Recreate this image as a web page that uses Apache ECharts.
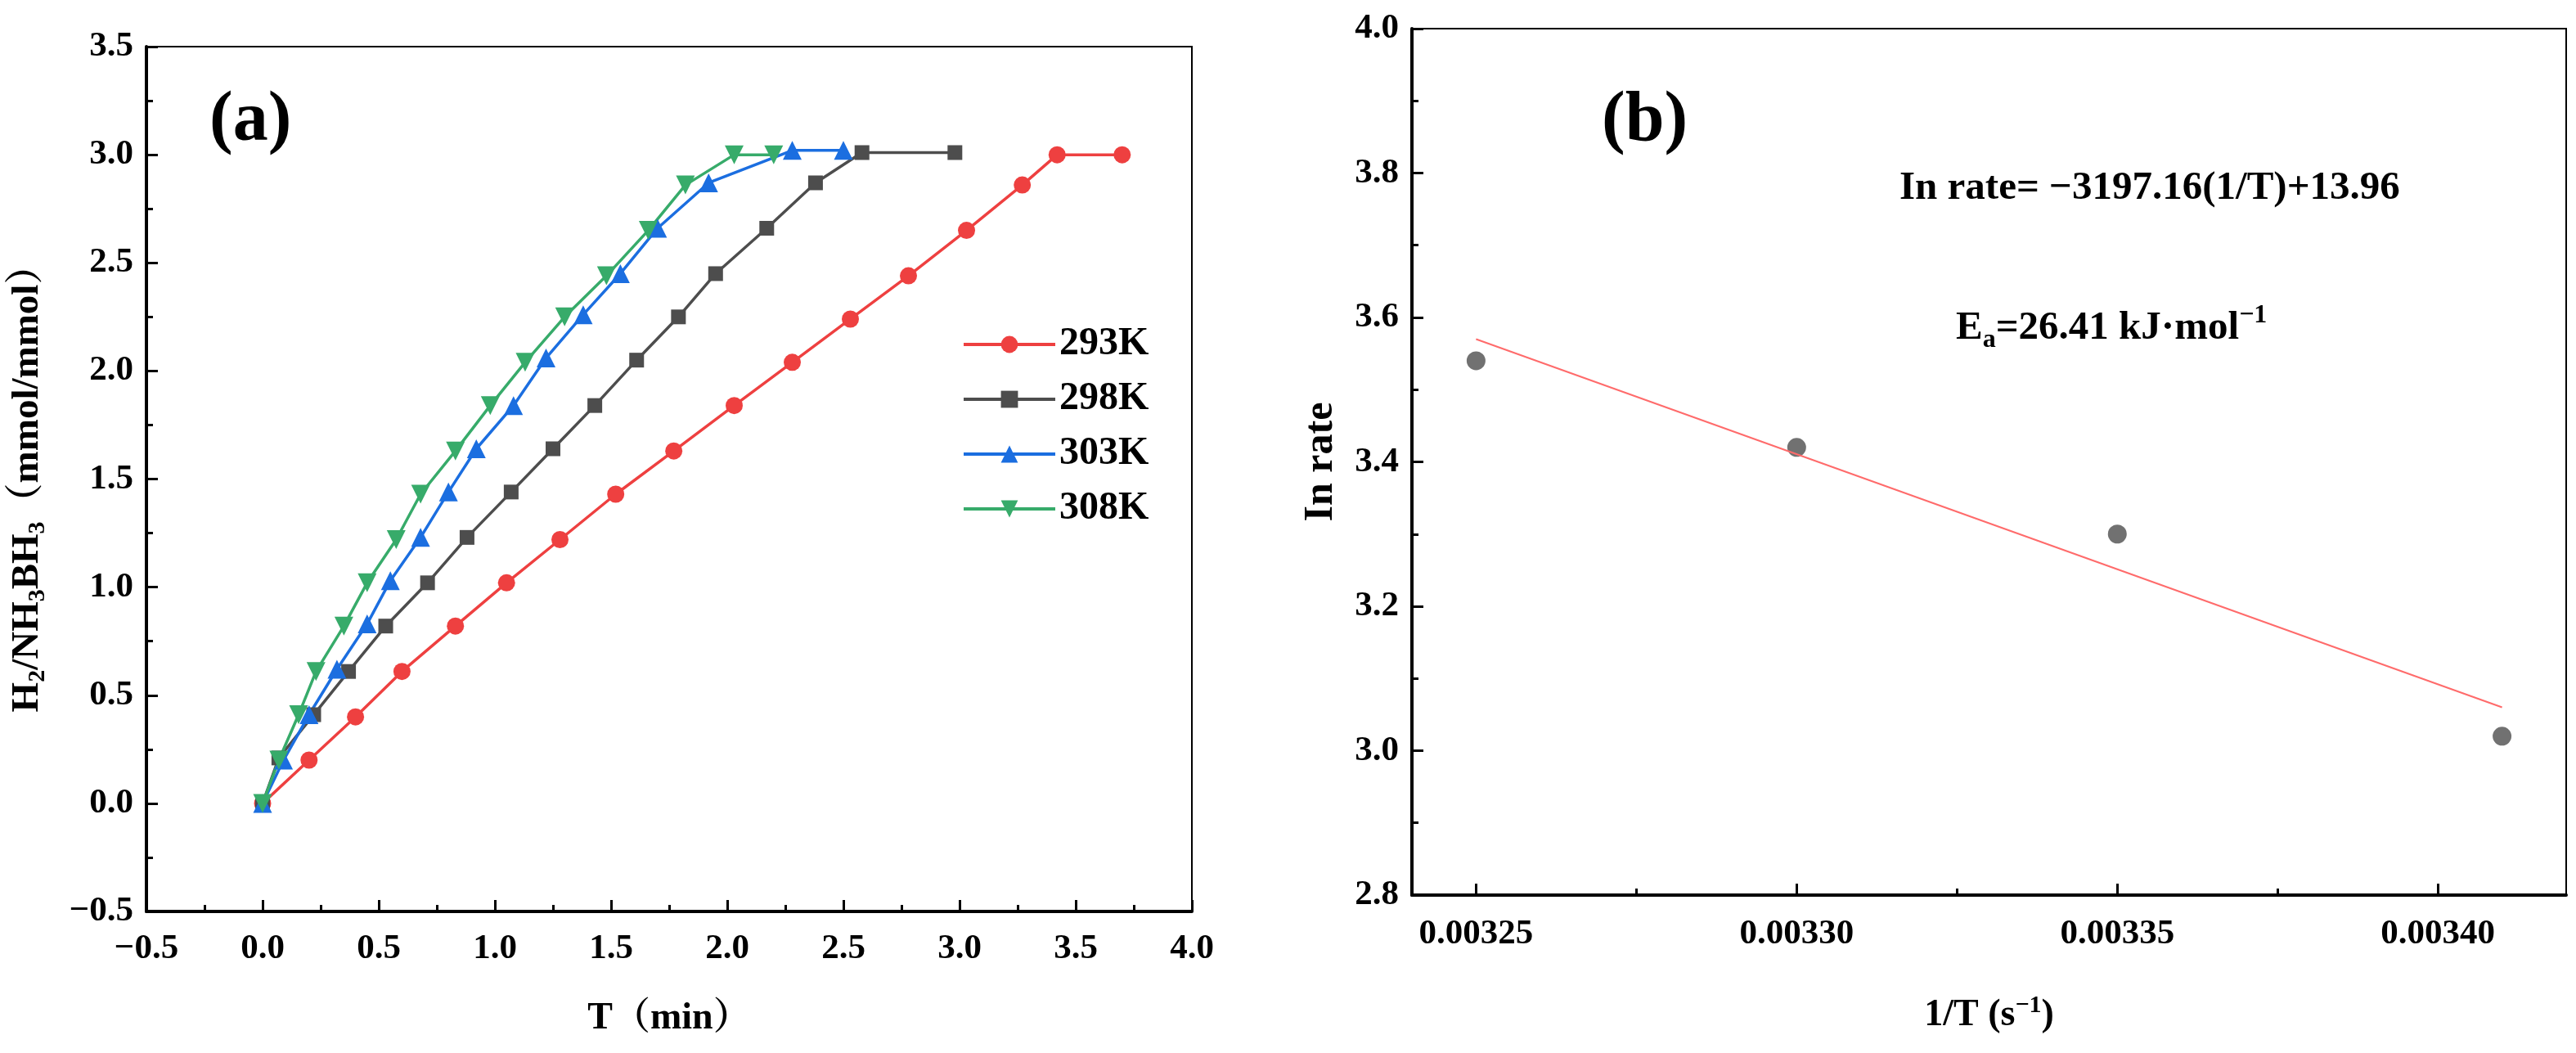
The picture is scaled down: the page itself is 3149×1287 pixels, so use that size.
<!DOCTYPE html>
<html>
<head>
<meta charset="utf-8">
<title>H2 release kinetics</title>
<script src="https://cdn.jsdelivr.net/npm/echarts@6/dist/echarts.min.js"></script>
<style>
    html, body { margin: 0; padding: 0; background: #fff; }
    #main { width: 3149px; height: 1287px; }
</style>
</head>
<body>
<div id="main"></div>
<script>
//----------------------------------------------------------------------------------
// data
//----------------------------------------------------------------------------------

var seriesNames = ['293K', '298K', '303K', '308K'];

// (a) time in min / H2 per NH3BH3
var t293 = [0, 0.2, 0.4, 0.6, 0.83, 1.05, 1.28, 1.52, 1.77, 2.03, 2.28, 2.53, 2.78, 3.03, 3.27, 3.42, 3.70];
var v293 = [0, 0.2, 0.4, 0.61, 0.82, 1.02, 1.22, 1.43, 1.63, 1.84, 2.04, 2.24, 2.44, 2.65, 2.86, 3.0, 3.0];

var t298 = [0, 0.07, 0.22, 0.37, 0.53, 0.71, 0.88, 1.07, 1.25, 1.43, 1.61, 1.79, 1.95, 2.17, 2.38, 2.58, 2.98];
var v298 = [0, 0.21, 0.41, 0.61, 0.82, 1.02, 1.23, 1.44, 1.64, 1.84, 2.05, 2.25, 2.45, 2.66, 2.87, 3.01, 3.01];

var t303 = [0, 0.09, 0.2, 0.32, 0.45, 0.55, 0.68, 0.8, 0.92, 1.08, 1.22, 1.38, 1.54, 1.70, 1.92, 2.28, 2.50];
var v303 = [0, 0.2, 0.41, 0.62, 0.83, 1.03, 1.23, 1.44, 1.64, 1.84, 2.06, 2.26, 2.45, 2.66, 2.87, 3.02, 3.02];

var t308 = [0, 0.07, 0.155, 0.23, 0.35, 0.45, 0.575, 0.68, 0.83, 0.98, 1.13, 1.30, 1.48, 1.66, 1.82, 2.03, 2.20];
var v308 = [0, 0.2, 0.41, 0.61, 0.82, 1.02, 1.22, 1.43, 1.63, 1.84, 2.04, 2.25, 2.44, 2.65, 2.86, 3.0, 3.0];

// (b) Arrhenius plot
var invT = [0.00325, 0.00330, 0.00335, 0.00341];
var lnRate = [3.54, 3.42, 3.30, 3.02];
var fitX = [0.00325, 0.00341];
var fitY = [3.57, 3.06];

var bTicks = [0.00325, 0.00330, 0.00335, 0.00340];
var bMinorTicks = [0.003275, 0.003325, 0.003375];

//----------------------------------------------------------------------------------
// helpers
//----------------------------------------------------------------------------------

function zipPairs(xs, ys) {
    var out = [];
    for (var i = 0; i < xs.length; i++) {
        out.push([xs[i], ys[i]]);
    }
    return out;
}

var FONT = '"Liberation Serif", "Times New Roman", "Noto Serif CJK SC", "Noto Sans CJK SC", serif';
var LABEL = { fontFamily: FONT, fontWeight: 'bold', fontSize: 43, color: '#000' };

function fmt1(v) {
    var s = v.toFixed(1);
    return v < 0 ? s.replace('-', '\u2212') : s;
}

var axisLineStyle = { color: '#000', width: 4 };

//----------------------------------------------------------------------------------
// chart
//----------------------------------------------------------------------------------

var chart = echarts.init(document.getElementById('main'));

var option = {
    backgroundColor: '#fff',
    animation: false,
    grid: [
        { left: 179, top: 57, width: 1278, height: 1057, show: true, borderColor: '#000', borderWidth: 2, backgroundColor: 'transparent' },
        { left: 1726, top: 35, width: 1411, height: 1059, show: true, borderColor: '#000', borderWidth: 2, backgroundColor: 'transparent' }
    ],
    legend: {
        data: seriesNames,
        orient: 'vertical',
        left: 1171,
        top: 392,
        itemWidth: 112,
        itemHeight: 26,
        itemGap: 19,
        lineStyle: { width: 4 },
        textStyle: { fontFamily: FONT, fontWeight: 'bold', fontSize: 48, lineHeight: 48, color: '#000' }
    },
    xAxis: [
        {
            gridIndex: 0,
            type: 'value',
            min: -0.5,
            max: 4.0,
            interval: 0.5,
            name: 'T（min）',
            nameLocation: 'middle',
            nameGap: 108,
            nameTextStyle: { fontFamily: FONT, fontWeight: 'bold', fontSize: 46, color: '#000' },
            axisLine: { onZero: false, lineStyle: axisLineStyle },
            axisTick: { inside: true, length: 14, lineStyle: { color: '#000', width: 3 } },
            minorTick: { show: true, splitNumber: 2, length: 8, lineStyle: { color: '#000', width: 3 } },
            splitLine: { show: false },
            axisLabel: Object.assign({ margin: 24, formatter: fmt1 }, LABEL)
        },
        {
            gridIndex: 1,
            type: 'value',
            position: 'bottom',
            min: 0.00324,
            max: 0.00342,
            name: '1/T (s{sup|\u22121})',
            nameLocation: 'middle',
            nameGap: 120,
            nameTextStyle: {
                fontFamily: FONT, fontWeight: 'bold', fontSize: 46, lineHeight: 54, color: '#000',
                rich: { sup: { fontFamily: FONT, fontWeight: 'bold', fontSize: 30, verticalAlign: 'top', color: '#000' } }
            },
            axisLine: { onZero: false, lineStyle: axisLineStyle },
            axisTick: { inside: true, length: 14, customValues: bTicks, lineStyle: { color: '#000', width: 3 } },
            splitLine: { show: false },
            axisLabel: Object.assign({
                margin: 26,
                customValues: bTicks,
                formatter: function(v) { return v.toFixed(5); }
            }, LABEL)
        },
        {
            // minor ticks for (b)
            gridIndex: 1,
            type: 'value',
            position: 'bottom',
            min: 0.00324,
            max: 0.00342,
            axisLine: { show: false },
            axisTick: { inside: true, length: 8, customValues: bMinorTicks, lineStyle: { color: '#000', width: 3 } },
            splitLine: { show: false },
            axisLabel: { show: false }
        }
    ],
    yAxis: [
        {
            gridIndex: 0,
            type: 'value',
            min: -0.5,
            max: 3.5,
            interval: 0.5,
            name: 'H{sub|2}/NH{sub|3}BH{sub|3}（mmol/mmol）',
            nameLocation: 'middle',
            nameGap: 118,
            nameTextStyle: {
                fontFamily: FONT, fontWeight: 'bold', fontSize: 47, lineHeight: 54, color: '#000',
                rich: { sub: { fontFamily: FONT, fontWeight: 'bold', fontSize: 30, verticalAlign: 'bottom', color: '#000' } }
            },
            axisLine: { onZero: false, lineStyle: axisLineStyle },
            axisTick: { inside: true, length: 14, lineStyle: { color: '#000', width: 3 } },
            minorTick: { show: true, splitNumber: 2, length: 8, lineStyle: { color: '#000', width: 3 } },
            splitLine: { show: false },
            axisLabel: Object.assign({ margin: 16, formatter: fmt1 }, LABEL)
        },
        {
            gridIndex: 1,
            type: 'value',
            min: 2.8,
            max: 4.0,
            interval: 0.2,
            name: 'In rate',
            nameLocation: 'middle',
            nameGap: 86,
            nameTextStyle: { fontFamily: FONT, fontWeight: 'bold', fontSize: 50, color: '#000' },
            axisLine: { onZero: false, lineStyle: axisLineStyle },
            axisTick: { inside: true, length: 14, lineStyle: { color: '#000', width: 3 } },
            minorTick: { show: true, splitNumber: 2, length: 8, lineStyle: { color: '#000', width: 3 } },
            splitLine: { show: false },
            axisLabel: Object.assign({ margin: 16, formatter: fmt1 }, LABEL)
        }
    ],
    graphic: [
        {
            type: 'text', left: 256, top: 106,
            style: { text: '(a)', font: 'bold 86px ' + FONT, fill: '#000' }
        },
        {
            type: 'text', left: 1958, top: 106,
            style: { text: '(b)', font: 'bold 86px ' + FONT, fill: '#000' }
        },
        {
            type: 'text', left: 2322, top: 206,
            style: { text: 'In rate= \u22123197.16(1/T)+13.96', font: 'bold 49px ' + FONT, fill: '#000' }
        },
        {
            type: 'text', left: 2391, top: 370,
            style: {
                text: 'E{sub|a}=26.41 kJ\u00b7mol{sup|\u22121}',
                fontFamily: FONT, fontWeight: 'bold', fontSize: 49, lineHeight: 62, fill: '#000',
                rich: {
                    sub: { fontFamily: FONT, fontWeight: 'bold', fontSize: 32, verticalAlign: 'bottom', fill: '#000' },
                    sup: { fontFamily: FONT, fontWeight: 'bold', fontSize: 32, verticalAlign: 'top', fill: '#000' }
                }
            }
        }
    ],
    series: [
        {
            name: '293K', type: 'line', xAxisIndex: 0, yAxisIndex: 0,
            data: zipPairs(t293, v293),
            symbol: 'circle', symbolSize: 21,
            itemStyle: { color: '#ee4040' }, lineStyle: { color: '#ee4040', width: 3.5 }
        },
        {
            name: '298K', type: 'line', xAxisIndex: 0, yAxisIndex: 0,
            data: zipPairs(t298, v298),
            symbol: 'rect', symbolSize: 18,
            itemStyle: { color: '#4d4d4d' }, lineStyle: { color: '#4d4d4d', width: 3.5 }
        },
        {
            name: '303K', type: 'line', xAxisIndex: 0, yAxisIndex: 0,
            data: zipPairs(t303, v303),
            symbol: 'triangle', symbolSize: 23,
            itemStyle: { color: '#1b6ee0' }, lineStyle: { color: '#1b6ee0', width: 3.5 }
        },
        {
            name: '308K', type: 'line', xAxisIndex: 0, yAxisIndex: 0,
            data: zipPairs(t308, v308),
            symbol: 'triangle', symbolRotate: 180, symbolSize: 23,
            itemStyle: { color: '#37ab6a' }, lineStyle: { color: '#37ab6a', width: 3.5 }
        },
        {
            name: 'fit', type: 'line', xAxisIndex: 1, yAxisIndex: 1,
            data: zipPairs(fitX, fitY),
            showSymbol: false, symbol: 'none',
            lineStyle: { color: '#ff6b6b', width: 2 }
        },
        {
            name: 'ln rate', type: 'scatter', xAxisIndex: 1, yAxisIndex: 1,
            data: zipPairs(invT, lnRate),
            symbol: 'circle', symbolSize: 23,
            itemStyle: { color: '#4d4d4d' }
        }
    ]
};

chart.setOption(option);
</script>
</body>
</html>
